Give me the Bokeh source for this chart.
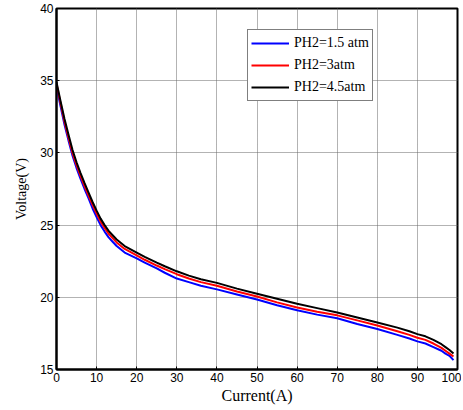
from bokeh.plotting import figure
from bokeh.models import Range1d, FixedTicker, Legend, LegendItem
from bokeh.embed import file_html
from bokeh.resources import INLINE

# Current (A)
current = [0, 1, 2, 3, 4, 5, 6, 7, 8, 9, 10, 11, 12, 13, 14, 15,
           17, 20, 22, 25, 27, 30, 33, 36, 40,
           45, 50, 55, 60, 65, 70, 75, 80, 85, 88, 90, 92, 94, 96, 97, 98, 99]
# Voltage (V) for each hydrogen pressure
v_15atm = [34.6, 33.25, 31.95, 30.85, 29.8, 28.95, 28.2, 27.5, 26.85, 26.15, 25.55, 25.0, 24.55, 24.15, 23.85, 23.55,
           23.1, 22.7, 22.4, 22.0, 21.7, 21.3, 21.05, 20.8, 20.55,
           20.2, 19.85, 19.45, 19.1, 18.8, 18.55, 18.15, 17.8, 17.4, 17.15, 16.95, 16.8, 16.55, 16.3, 16.1, 15.95, 15.65]
v_3atm = [34.8, 33.45, 32.15, 31.05, 30.0, 29.15, 28.4, 27.7, 27.05, 26.4, 25.8, 25.25, 24.8, 24.4, 24.1, 23.8,
          23.35, 22.9, 22.6, 22.2, 21.95, 21.6, 21.3, 21.05, 20.8,
          20.4, 20.05, 19.65, 19.3, 19.0, 18.75, 18.4, 18.05, 17.65, 17.4, 17.2, 17.05, 16.8, 16.5, 16.3, 16.1, 15.9]
v_45atm = [34.9, 33.6, 32.35, 31.25, 30.2, 29.35, 28.6, 27.9, 27.25, 26.6, 26.0, 25.45, 25.0, 24.6, 24.3, 24.0,
           23.55, 23.1, 22.8, 22.4, 22.15, 21.8, 21.5, 21.25, 21.0,
           20.6, 20.25, 19.9, 19.55, 19.25, 18.95, 18.6, 18.25, 17.9, 17.65, 17.45, 17.3, 17.05, 16.75, 16.55, 16.35, 16.1]

labels = ["PH2=1.5 atm", "PH2=3atm", "PH2=4.5atm"]
colors = ["#0000ff", "#ff0000", "#000000"]
x_ticks = [0, 10, 20, 30, 40, 50, 60, 70, 80, 90, 100]
y_ticks = [15, 20, 25, 30, 35, 40]

p = figure(width=461, height=408, output_backend="svg", toolbar_location=None,
           x_range=Range1d(0, 100), y_range=Range1d(15, 40),
           min_border_left=56, min_border_right=4, min_border_top=8, min_border_bottom=39)
p.background_fill_color = "white"
p.border_fill_color = "white"
p.outline_line_color = "black"
p.outline_line_width = 2

renderers = []
for ys, c in zip([v_15atm, v_3atm, v_45atm], colors):
    r = p.line(current, ys, line_color=c, line_width=2)
    renderers.append(r)

for ax in (p.xaxis[0], p.yaxis[0]):
    ax.axis_line_width = 2
    ax.axis_line_color = "black"
    ax.major_tick_in = 3
    ax.major_tick_out = 0
    ax.minor_tick_line_color = None
    ax.major_tick_line_color = "black"
    ax.major_label_text_font = "Liberation Sans"
    ax.major_label_text_font_size = "12px"
    ax.major_label_text_color = "black"
    ax.major_label_standoff = 3
    ax.axis_label_text_font = "Liberation Serif"
    ax.axis_label_text_font_style = "normal"
    ax.axis_label_text_color = "black"

p.xaxis[0].ticker = FixedTicker(ticks=x_ticks)
p.yaxis[0].ticker = FixedTicker(ticks=y_ticks)
p.xaxis[0].axis_label = "Current(A)"
p.xaxis[0].axis_label_text_font_size = "16px"
p.xaxis[0].axis_label_standoff = 2
p.yaxis[0].axis_label = "Voltage(V)"
p.yaxis[0].axis_label_text_font_size = "14px"
p.yaxis[0].axis_label_standoff = 8

p.xgrid[0].ticker = FixedTicker(ticks=x_ticks)
p.ygrid[0].ticker = FixedTicker(ticks=y_ticks)
for g in (p.xgrid[0], p.ygrid[0]):
    g.grid_line_color = "#666666"
    g.grid_line_dash = "1 1"
    g.grid_line_width = 1

legend = Legend(items=[LegendItem(label=l, renderers=[r]) for l, r in zip(labels, renderers)],
                location=(191, 268), orientation="vertical")
legend.border_line_color = "black"
legend.border_line_width = 1
legend.background_fill_color = "white"
legend.background_fill_alpha = 1
legend.label_text_font = "Liberation Serif"
legend.label_text_font_size = "14px"
legend.label_text_color = "black"
legend.glyph_width = 38
legend.glyph_height = 20
legend.label_height = 20
legend.label_standoff = 5
legend.spacing = 2
legend.padding = 3
legend.margin = 0
p.add_layout(legend, "center")

open("out.html", "w").write(file_html(p, INLINE))
